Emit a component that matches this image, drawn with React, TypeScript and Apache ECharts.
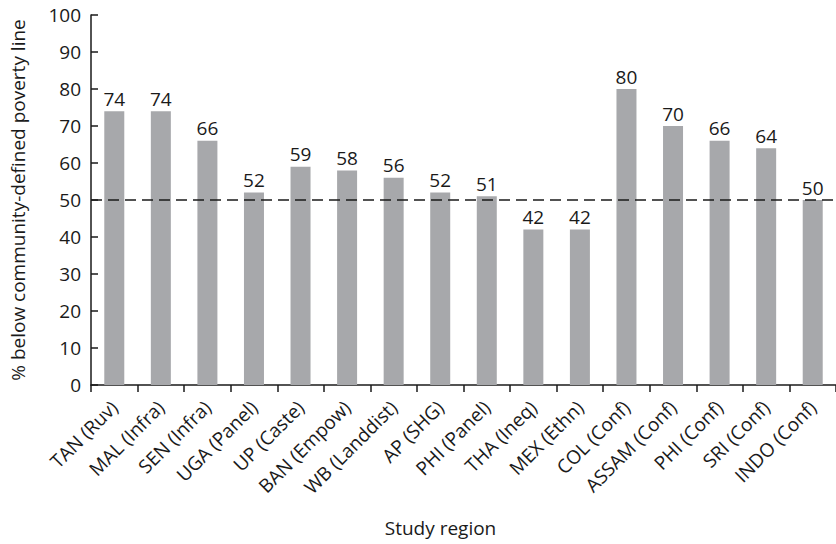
import React, { useEffect, useRef } from "react";
import * as echarts from "echarts";

const categories = [
  "TAN (Ruv)", "MAL (Infra)", "SEN (Infra)", "UGA (Panel)", "UP (Caste)",
  "BAN (Empow)", "WB (Landdist)", "AP (SHG)", "PHI (Panel)", "THA (Ineq)",
  "MEX (Ethn)", "COL (Conf)", "ASSAM (Conf)", "PHI (Conf)", "SRI (Conf)", "INDO (Conf)",
];
const values = [74, 74, 66, 52, 59, 58, 56, 52, 51, 42, 42, 80, 70, 66, 64, 50];
const povertyLine = 50;
const yTicks = { min: 0, max: 100, interval: 10 };

const FONT = "'Open Sans', 'Lato', sans-serif";
const INK = "#1a1a1a";

export default function App() {
  const ref = useRef<HTMLDivElement>(null);
  useEffect(() => {
    document.body.style.margin = "0";
    const chart = echarts.init(ref.current!, null, { renderer: "svg" });
    chart.setOption({
      animation: false,
      backgroundColor: "#ffffff",
      textStyle: { fontFamily: FONT, color: INK },
      grid: { left: 90, top: 15, right: -2, bottom: 159, containLabel: false },
      xAxis: {
        type: "category",
        data: categories,
        name: "Study region",
        nameLocation: "middle",
        nameGap: 133,
        nameTextStyle: { fontSize: 19, fontFamily: FONT, color: INK, padding: [0, 46, 0, 0] },
        axisLine: { lineStyle: { color: INK, width: 1.5 } },
        axisTick: { show: true, alignWithLabel: false, length: 7, inside: false, lineStyle: { color: INK, width: 1.5 } },
        axisLabel: { interval: 0, rotate: 45, fontSize: 19, margin: 19, color: INK, fontFamily: FONT },
        splitLine: { show: false },
      },
      yAxis: {
        type: "value",
        min: yTicks.min,
        max: yTicks.max,
        interval: yTicks.interval,
        name: "% below community-defined poverty line",
        nameLocation: "middle",
        nameGap: 64,
        nameRotate: 90,
        nameTextStyle: { fontSize: 19, fontFamily: FONT, color: INK },
        axisLine: { show: true, lineStyle: { color: INK, width: 1.5 } },
        axisTick: { show: true, inside: true, length: 7, lineStyle: { color: INK, width: 1.5 } },
        axisLabel: { fontSize: 19, margin: 10, color: INK, fontFamily: FONT },
        splitLine: { show: false },
      },
      series: [
        {
          type: "bar",
          data: values,
          barWidth: 20,
          itemStyle: { color: "#a7a8ab" },
          label: { show: true, position: "top", distance: 3, fontSize: 19, color: INK, fontFamily: FONT },
          markLine: {
            silent: true,
            symbol: "none",
            label: { show: false },
            lineStyle: { color: INK, type: [11, 6], width: 1.5 },
            data: [{ yAxis: povertyLine }],
          },
        },
      ],
    });
    return () => chart.dispose();
  }, []);
  return <div ref={ref} style={{ width: 836, height: 544 }} />;
}
